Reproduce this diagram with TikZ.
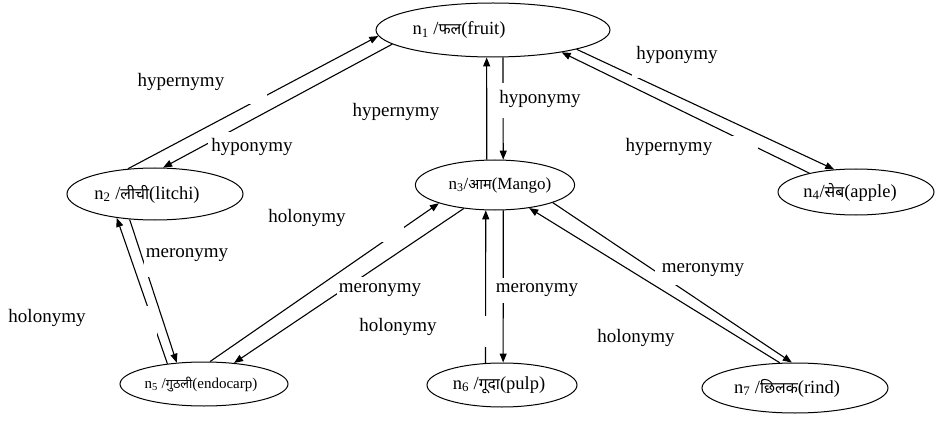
\documentclass[tikz,border=0pt]{standalone}
\usepackage{fontspec}
\setmainfont{Liberation Serif}
\newfontfamily\dev[Script=Devanagari,Scale=0.85]{Noto Sans}
\usetikzlibrary{arrows.meta,shapes.geometric}
\tikzset{
  ell/.style={draw, ellipse, line width=1pt, inner sep=0pt},
  edge/.style={line width=1.1pt, -{Triangle[length=9pt,width=7pt]}},
  lbl/.style={font=\fontsize{19}{22}\selectfont, inner sep=0pt},
  mask/.style={fill=white},
  ntext/.style={font=\fontsize{18.5}{22}\selectfont}
}
\begin{document}
\begin{tikzpicture}[x=1pt,y=-1pt]
\useasboundingbox (0,0) rectangle (943,425);
% nodes
\node[ell, ntext, minimum width=234pt, minimum height=54pt] (n1) at (493,30) {\hspace*{-68pt}n\textsubscript{1} /{\dev फल}(fruit)};
\node[ell, ntext, minimum width=176pt, minimum height=52pt] (n2) at (155,194) {\hspace*{-16pt}n\textsubscript{2} /{\dev लीची}(litchi)};
\node[ell, font=\fontsize{17}{20}\selectfont, minimum width=140pt, minimum height=50pt] (n3) at (495,185) {\hspace*{10pt}n\textsubscript{3}/{\dev आम}(Mango)};
\node[ell, ntext, minimum width=156pt, minimum height=46pt] (n4) at (856,192) {\hspace*{-12pt}n\textsubscript{4}/{\dev सेब}(apple)};
\node[ell, font=\fontsize{15}{18}\selectfont, minimum width=168pt, minimum height=44pt] (n5) at (204,384) {\hspace*{-6pt}n\textsubscript{5} /{\dev गुठली}(endocarp)};
\node[ell, ntext, minimum width=150pt, minimum height=44pt] (n6) at (502,385) {\hspace*{-6pt}n\textsubscript{6} /{\dev गूदा}(pulp)};
\node[ell, ntext, minimum width=186pt, minimum height=50pt] (n7) at (795,388) {\hspace*{-16pt}n\textsubscript{7} /{\dev छिलक}(rind)};
% connectors
\draw[edge] (n2.137) -- (n1.183);
\draw[edge] (n1.188) -- (n2.73);
\draw[edge] (n3.108) -- (n1.257);
\draw[edge] (n1.290) -- (n3.72);
\draw[edge] (n1.347) -- (n4.134);
\draw[edge] (n4.158) -- (n1.342);
\draw[edge] (n5.151) -- (n2.212);
\draw[edge] (n2.225) -- (n5.142);
\draw[edge] (n5.75) -- (n3.198);
\draw[edge] (n3.217) -- (n5.35);
\draw[edge] (n6.127) -- (n3.250);
\draw[edge] (n3.288) -- (n6.87);
\draw[edge] (n3.343) -- (n7.97);
\draw[edge] (n7.121) -- (n3.326);
% white label boxes
\fill[mask] (125,70) rectangle (267,104);
\fill[mask] (208,132) rectangle (300,160);
\fill[mask] (497,83) rectangle (590,118);
\fill[mask] (632,40) rectangle (725,78);
\fill[mask] (618,136) rectangle (758,160);
\fill[mask] (0,306) rectangle (157,336);
\fill[mask] (144,240) rectangle (235,277);
\fill[mask] (262,205) rectangle (404,242);
\fill[mask] (337,277) rectangle (425,300);
\fill[mask] (352,316) rectangle (490,347);
\fill[mask] (492,278) rectangle (585,303);
\fill[mask] (655,258) rectangle (750,285);
\fill[mask] (590,325) rectangle (690,352);
% labels
\node[lbl] (l1) at (181,82) {hypernymy};
\node[lbl] (l2) at (252,147) {hyponymy};
\node[lbl] (l3) at (396,112) {hypernymy};
\node[lbl] (l4) at (540,99) {hyponymy};
\node[lbl] (l5) at (677,55) {hyponymy};
\node[lbl] (l6) at (669,147) {hypernymy};
\node[lbl] (l7) at (47,318) {holonymy};
\node[lbl] (l8) at (187,255) {meronymy};
\node[lbl] (l9) at (307,218) {holonymy};
\node[lbl] (l10) at (380,290) {meronymy};
\node[lbl] (l11) at (398,327) {holonymy};
\node[lbl] (l12) at (537,290) {meronymy};
\node[lbl] (l13) at (703,270) {meronymy};
\node[lbl] (l14) at (636,338) {holonymy};
\end{tikzpicture}
\end{document}
